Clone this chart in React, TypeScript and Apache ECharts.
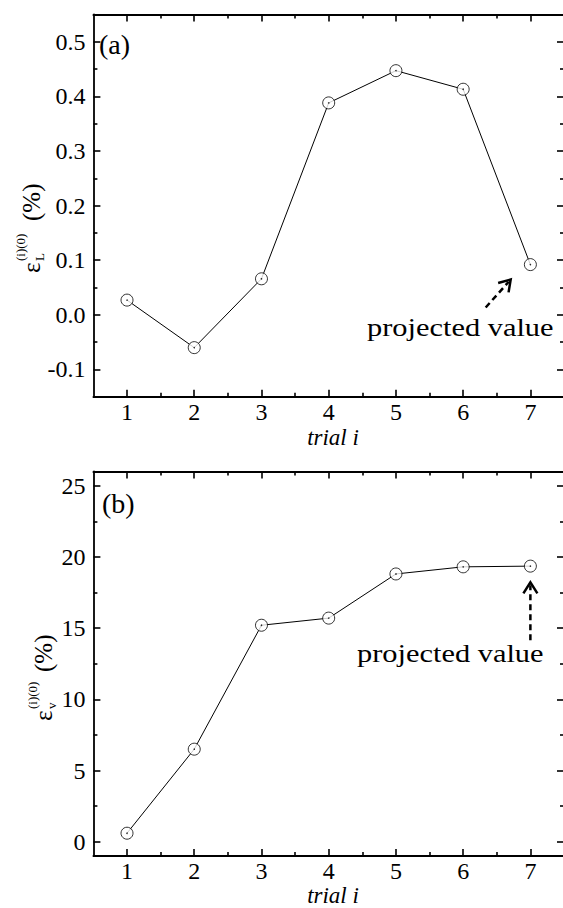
import React, { useEffect, useRef } from "react";
import * as echarts from "echarts";

// ---- data ----
const trials = [1, 2, 3, 4, 5, 6, 7];
const strainL = [0.027, -0.06, 0.066, 0.388, 0.447, 0.413, 0.092];
const strainV = [0.6, 6.5, 15.2, 15.7, 18.8, 19.3, 19.35];

const xTicks = [1, 2, 3, 4, 5, 6, 7];
const xMinorTicks = [1.5, 2.5, 3.5, 4.5, 5.5, 6.5];
const yTicksA = [-0.1, 0, 0.1, 0.2, 0.3, 0.4, 0.5];
const yMinorTicksA = [-0.05, 0.05, 0.15, 0.25, 0.35, 0.45];
const yTicksB = [0, 5, 10, 15, 20, 25];
const yMinorTicksB = [2.5, 7.5, 12.5, 17.5, 22.5];

const annotationText = "projected value";
// arrow [tail, tip] in data units
const arrowA = [
  [6.335, 0.0135],
  [6.707, 0.0647],
];
const arrowB = [
  [7, 14.14],
  [7, 18.21],
];

const FONT = "Liberation Serif";

function mkAxis(
  grid: number,
  position: string,
  min: number,
  max: number,
  ticks: number[],
  len: number,
  showLine: boolean,
  label?: { fmt: (v: number) => string; margin: number; lineHeight?: number }
) {
  return {
    type: "value",
    gridIndex: grid,
    position,
    min,
    max,
    axisLine: { show: showLine, onZero: false, lineStyle: { color: "#000", width: 1.8 } },
    axisTick: {
      show: true,
      inside: true,
      length: len,
      customValues: ticks,
      lineStyle: { color: "#000", width: 1.6 },
    },
    axisLabel: label
      ? {
          show: true,
          customValues: ticks,
          formatter: label.fmt,
          margin: label.margin,
          fontSize: 24,
          lineHeight: label.lineHeight,
          fontFamily: FONT,
          color: "#000",
        }
      : { show: false },
    splitLine: { show: false },
  };
}

function xAxesFor(grid: number) {
  const lbl = { fmt: (v: number) => String(v), margin: 5, lineHeight: 20 };
  return [
    mkAxis(grid, "bottom", 0.5, 7.5, xTicks, 7, true, lbl),
    mkAxis(grid, "bottom", 0.5, 7.5, xMinorTicks, 4, false),
    mkAxis(grid, "top", 0.5, 7.5, xTicks, 7, true),
    mkAxis(grid, "top", 0.5, 7.5, xMinorTicks, 4, false),
  ];
}

function yAxesFor(
  grid: number,
  min: number,
  max: number,
  major: number[],
  minor: number[],
  fmt: (v: number) => string
) {
  return [
    mkAxis(grid, "left", min, max, major, 7, true, { fmt, margin: 8 }),
    mkAxis(grid, "left", min, max, minor, 4, false),
    mkAxis(grid, "right", min, max, major, 7, true),
    mkAxis(grid, "right", min, max, minor, 4, false),
  ];
}

function seriesFor(axisIdx: number, values: number[]) {
  const data = trials.map((t, i) => [t, values[i]]);
  return [
    {
      type: "line",
      xAxisIndex: axisIdx,
      yAxisIndex: axisIdx,
      data,
      showSymbol: false,
      symbol: "none",
      lineStyle: { color: "#000", width: 1 },
      z: 2,
    },
    {
      type: "scatter",
      xAxisIndex: axisIdx,
      yAxisIndex: axisIdx,
      data,
      symbol: "circle",
      symbolSize: 12,
      itemStyle: { color: "#fff", borderColor: "#000", borderWidth: 1 },
      z: 3,
    },
    {
      type: "scatter",
      xAxisIndex: axisIdx,
      yAxisIndex: axisIdx,
      data,
      symbol: "circle",
      symbolSize: 1.6,
      itemStyle: { color: "#000" },
      z: 4,
    },
  ];
}

function yTitle(x: number, y: number, sub: string, pctOffset: number) {
  return {
    type: "group",
    x,
    y,
    rotation: Math.PI / 2,
    children: [
      { type: "text", x: 0, y: 0, style: { text: "ε", fontSize: 25, fontFamily: FONT, fill: "#000", verticalAlign: "middle" } },
      { type: "text", x: 12, y: -11, style: { text: "(i)(0)", fontSize: 13, fontFamily: FONT, fill: "#000", verticalAlign: "middle" } },
      { type: "text", x: 12, y: 8, style: { text: sub, fontSize: 13, fontFamily: FONT, fill: "#000", verticalAlign: "middle" } },
      { type: "text", x: pctOffset, y: 0, style: { text: "(%)", fontSize: 25, fontFamily: FONT, fill: "#000", verticalAlign: "middle" } },
    ],
  };
}

function arrowGraphics(tail: number[], tip: number[]) {
  const dx = tip[0] - tail[0];
  const dy = tip[1] - tail[1];
  const l = Math.hypot(dx, dy) || 1;
  const ux = dx / l;
  const uy = dy / l;
  const nx = -uy;
  const ny = ux;
  const L = 11;
  const W = 7;
  const a1 = [tip[0] - ux * L + nx * W, tip[1] - uy * L + ny * W];
  const a2 = [tip[0] - ux * L - nx * W, tip[1] - uy * L - ny * W];
  return [
    {
      type: "line",
      shape: { x1: tail[0], y1: tail[1], x2: tip[0] - ux * 3, y2: tip[1] - uy * 3 },
      style: { stroke: "#000", lineWidth: 2.5, lineDash: [6, 4] },
      z: 10,
    },
    {
      type: "polyline",
      shape: { points: [a1, tip, a2] },
      style: { stroke: "#000", lineWidth: 2.5, fill: null },
      z: 10,
    },
  ];
}

export default function App() {
  const ref = useRef<HTMLDivElement>(null);
  useEffect(() => {
    if (!ref.current) return;
    const chart = echarts.init(ref.current, null, { renderer: "svg" });
    const option: any = {
      animation: false,
      backgroundColor: "#fff",
      textStyle: { fontFamily: FONT },
      grid: [
        { left: 93.4, top: 14.4, width: 470.6, height: 382.4, containLabel: false },
        { left: 93.4, top: 471.4, width: 470.6, height: 384.6, containLabel: false },
      ],
      xAxis: [...xAxesFor(0), ...xAxesFor(1)],
      yAxis: [
        ...yAxesFor(0, -0.15, 0.55, yTicksA, yMinorTicksA, (v: number) => v.toFixed(1)),
        ...yAxesFor(1, -1, 26, yTicksB, yMinorTicksB, (v: number) => String(v)),
      ],
      series: [...seriesFor(0, strainL), ...seriesFor(4, strainV)],
    };
    chart.setOption(option);

    const pA0 = chart.convertToPixel({ seriesIndex: 0 }, arrowA[0]) as number[];
    const pA1 = chart.convertToPixel({ seriesIndex: 0 }, arrowA[1]) as number[];
    const pB0 = chart.convertToPixel({ seriesIndex: 3 }, arrowB[0]) as number[];
    const pB1 = chart.convertToPixel({ seriesIndex: 3 }, arrowB[1]) as number[];

    const textStyle = (size: number, extra: any = {}) => ({
      fontSize: size,
      fontFamily: FONT,
      fill: "#000",
      verticalAlign: "middle",
      ...extra,
    });

    chart.setOption({
      graphic: [
        { type: "text", x: 99, y: 44, style: { text: "(a)", ...textStyle(28) } },
        { type: "text", x: 102, y: 503, style: { text: "(b)", ...textStyle(28) } },
        { type: "text", x: 333, y: 437, style: { text: "trial i", ...textStyle(23, { align: "center", fontStyle: "italic", lineHeight: 20 }) } },
        { type: "text", x: 333, y: 895, style: { text: "trial i", ...textStyle(23, { align: "center", fontStyle: "italic", lineHeight: 20 }) } },
        { type: "text", x: 367, y: 327, scaleX: 1.17, style: { text: annotationText, ...textStyle(26) } },
        { type: "text", x: 357, y: 653, scaleX: 1.17, style: { text: annotationText, ...textStyle(26) } },
        yTitle(31, 273, "L", 52),
        yTitle(43, 721, "v", 49),
        ...arrowGraphics(pA0, pA1),
        ...arrowGraphics(pB0, pB1),
      ],
    });

    return () => chart.dispose();
  }, []);
  return (
    <div
      ref={ref}
      style={{ position: "fixed", left: 0, top: 0, width: 570, height: 908 }}
    />
  );
}
